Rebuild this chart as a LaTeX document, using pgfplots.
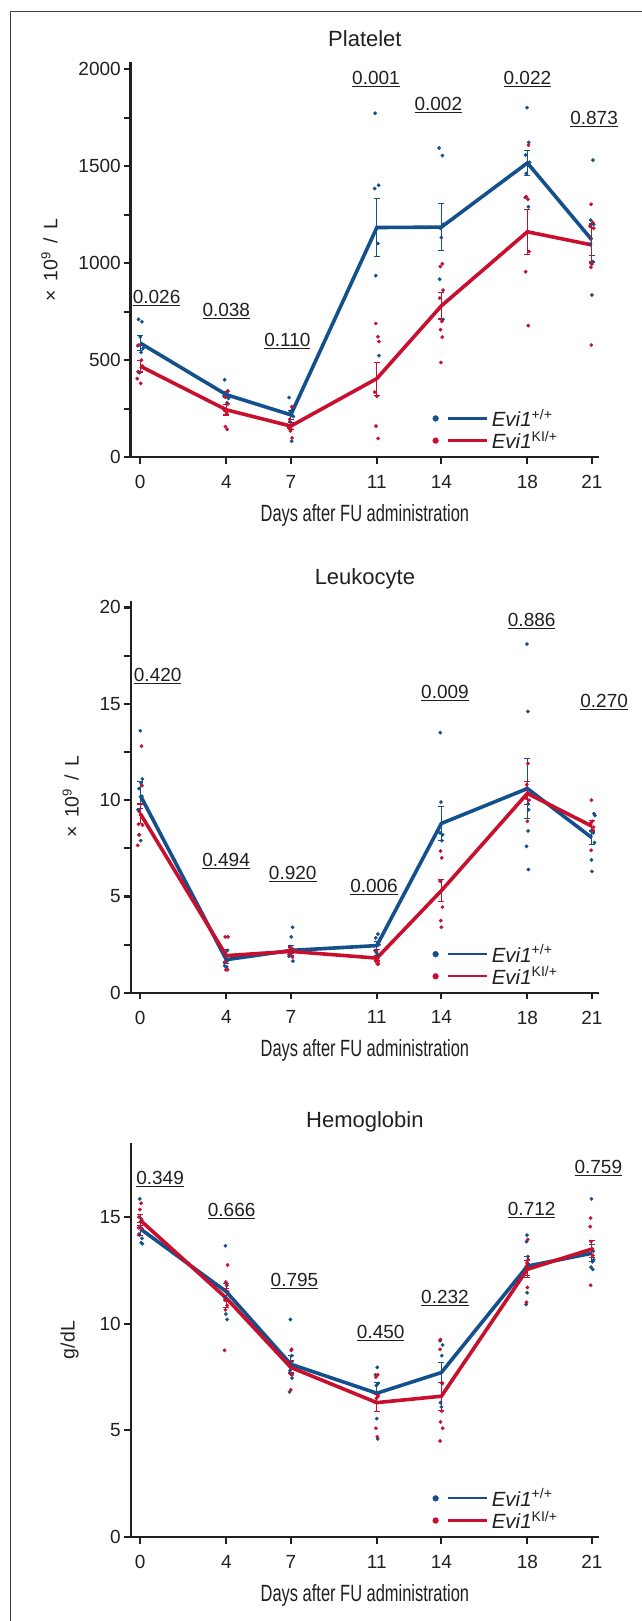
\documentclass[border=0pt]{standalone}
\usepackage{pgfplots}
\pgfplotsset{compat=1.18}
\usepackage{pgfplotstable}
\usepackage{fontspec}
\setmainfont{Liberation Sans}
\definecolor{cb}{HTML}{14508C}
\definecolor{cr}{HTML}{C8102E}
\definecolor{ink}{HTML}{231F20}

\newcommand{\supr}[1]{\raisebox{7pt}{\fontsize{13}{13}\selectfont #1}}
\newcommand{\supl}[1]{\raisebox{7.5pt}{\fontsize{14}{14}\selectfont #1}}
\newcommand{\pv}[1]{\underline{#1}}

% ---------- Platelet ----------
\pgfplotstableread{
d m e
0 588 38
4 322 15
7 218 22
11 1184 150
14 1186 120
18 1517 65
21 1120 82
}\plB
\pgfplotstableread{
d m e
0 469 30
4 244 27
7 160 18
11 405 85
14 780 68
18 1162 115
21 1094 88
}\plR
% ---------- Leukocyte ----------
\pgfplotstableread{
d m e
0 10.25 0.7
4 1.72 0.2
7 2.2 0.25
11 2.45 0.2
14 8.79 0.9
18 10.6 1.55
21 8.05 0.35
}\leB
\pgfplotstableread{
d m e
0 9.3 0.5
4 1.93 0.3
7 2.15 0.12
11 1.8 0.15
14 5.3 0.56
18 10.35 0.6
21 8.65 0.3
}\leR
% ---------- Hemoglobin ----------
\pgfplotstableread{
d m e
0 14.45 0.3
4 11.5 0.4
7 8.1 0.4
11 6.74 0.5
14 7.71 0.45
18 12.7 0.45
21 13.3 0.4
}\hbB
\pgfplotstableread{
d m e
0 14.85 0.25
4 11.2 0.45
7 7.95 0.3
11 6.3 0.4
14 6.6 0.65
18 12.55 0.4
21 13.5 0.4
}\hbR

\tikzset{pvn/.style={anchor=base, font=\fontsize{19}{22}\selectfont, text=ink}}

\pgfplotsset{
  panel/.style={
    scale only axis, width=468.2pt,
    axis x line=bottom, axis y line=left,
    axis line style={ink, line width=2.6pt, -},
    ymin=0, xmin=-0.44, xmax=21.33,
    xtick={0,4,7,11,14,18,21},
    tick align=outside, major tick length=6.5pt, minor tick length=6.5pt,
    every tick/.style={ink, line width=2.2pt},
    minor tick style={ink, line width=2.2pt},
    ticklabel style={font=\fontsize{19}{22}\selectfont, text=ink},
    xticklabel style={yshift=-8pt},
    /pgf/number format/assume math mode=true,
    /pgf/number format/1000 sep={},
    xlabel={\scalebox{0.7}[1]{\fontsize{23.5}{27}\selectfont Days after FU administration}},
    xlabel style={at={(axis description cs:0.5,0)}, anchor=center, yshift=-58pt, text=ink},
    ylabel style={font=\fontsize{19.5}{22}\selectfont, text=ink},
    ylabel shift=14pt,
    title style={font=\fontsize{22}{26}\selectfont, text=ink, at={(axis description cs:0.5,1)}, anchor=base, yshift=10pt},
    legend style={draw=none, fill=none, at={(0.644,0.012)}, anchor=south west,
      font=\fontsize{20.5}{22}\selectfont, text=ink, row sep=-1pt, inner sep=0pt,
      cells={anchor=west}},
    legend cell align=left,
    clip=false,
  },
  dots/.style={#1, only marks, mark=*, mark size=1.7pt, mark options={draw=none, fill=#1}, forget plot},
  meanline/.style={#1, line width=3.6pt, mark=none, forget plot,
    error bars/.cd, y dir=both, y explicit,
    error bar style={line width=1.1pt, #1},
    error mark options={rotate=90, mark size=3pt, line width=1.1pt, #1}},
  legimg/.style={#1, legend image code/.code={\fill[#1] (0pt,0pt) circle (2.9pt); \draw[#1, line width=2.2pt] (12pt,0pt) -- (51pt,0pt); \path (54pt,0pt);}},
}

\begin{document}
\begin{tikzpicture}[x=1pt,y=1pt]
\useasboundingbox (0,0) rectangle (641,-1621);
\draw[ink!85, line width=1.3pt] (10.2,-1640) -- (10.2,-11.8) -- (660,-11.8);

% ================= Platelet =================
\begin{axis}[panel, at={(130.8pt,-457.1pt)}, anchor=south west, height=394.6pt,
  ymax=2035, ytick={0,500,1000,1500,2000}, minor y tick num=1,
  title={Platelet},
  ylabel={×\, 10\supr{9}\, /\, L}]
\addplot[dots=cb] coordinates {
(-0.08,710)(0.08,698)(0,620)(-0.12,575)(0.12,560)(0.04,540)(-0.04,435)
(3.92,399)(4.08,340)(4,326)(3.9,315)(4.1,303)(4.03,280)
(6.92,307)(7.08,245)(7,235)(6.88,225)(7.12,210)(6.96,183)(7.04,82)
(10.92,1773)(11.08,1402)(10.9,1385)(11.05,1102)(10.95,936)(11.1,523)
(13.9,1594)(14.05,1555)(14.1,1200)(13.95,1180)(14,1132)(13.92,917)(14.08,710)
(17.98,1802)(18.06,1623)(17.92,1558)(18.1,1520)(17.95,1463)(17.9,1340)(18.05,1291)
(21.05,1532)(20.95,1222)(21.08,1200)(20.92,1100)(21.04,1008)(20.96,1000)(21,836)
};
\addplot[dots=cr] coordinates {
(-0.06,578)(0.06,500)(0.1,470)(-0.1,440)(-0.14,405)(0.02,380)
(4.05,340)(3.95,309)(4.08,274)(3.92,240)(4.02,227)(3.96,157)(4.04,143)
(7.05,260)(6.95,195)(7.1,170)(6.9,150)(7.02,143)(6.98,134)(7.06,99)
(10.95,689)(11.05,621)(11.1,596)(10.9,335)(11,314)(10.96,160)(11.06,96)
(14.05,997)(13.95,983)(14.08,861)(13.92,820)(14.02,700)(13.96,657)(14.04,619)(13.98,488)
(18.05,1609)(17.95,1343)(18.02,1330)(18.08,1060)(17.92,956)(18.04,678)
(20.96,1304)(21.04,1209)(20.92,1192)(21.08,1180)(21,996)(20.95,979)(20.97,578)
};
\addplot[meanline=cb] table[x=d, y=m, y error=e] {\plB};
\addplot[meanline=cr] table[x=d, y=m, y error=e] {\plR};
\node[pvn] at (axis cs:0.76,793) {\pv{0.026}};
\node[pvn] at (axis cs:4.0,724) {\pv{0.038}};
\node[pvn] at (axis cs:6.84,572) {\pv{0.110}};
\node[pvn] at (axis cs:10.96,1921) {\pv{0.001}};
\node[pvn] at (axis cs:13.86,1789) {\pv{0.002}};
\node[pvn] at (axis cs:18.0,1922) {\pv{0.022}};
\node[pvn] at (axis cs:21.1,1716) {\pv{0.873}};
\addlegendimage{legimg=cb}
\addlegendentry{\textit{Evi1}\supl{+/+}}
\addlegendimage{legimg=cr}
\addlegendentry{\textit{Evi1}\supl{KI/+}}
\end{axis}

% ================= Leukocyte =================
\begin{axis}[panel, at={(130.8pt,-992.8pt)}, anchor=south west, height=392.3pt,
  ymax=20.36, ytick={0,5,10,15,20}, minor y tick num=1,
  title={Leukocyte},
  ylabel={×\, 10\supr{9}\, /\, L}]
\addplot[dots=cb] coordinates {
(0,13.6)(0.1,11.1)(0.04,10.9)(-0.06,10.6)(0.08,10.2)(-0.1,9.5)(-0.04,8.2)(0.02,7.9)
(4.05,2.2)(3.95,1.9)(4.08,1.7)(3.92,1.4)(4.02,1.35)(3.98,1.6)
(7.08,3.4)(7.02,2.9)(6.95,2.4)(7.05,2.2)(6.92,1.9)(7.1,1.65)(6.98,2.0)
(11.05,3.05)(10.95,2.85)(11.1,2.5)(10.92,2.2)(11.02,2.0)(10.98,2.1)
(13.95,13.5)(13.98,9.9)(13.94,8.3)(14.06,8.2)(14.02,7.9)(13.97,5.8)
(17.98,18.1)(18.02,14.6)(17.95,10.6)(18.04,9.8)(18.06,9.5)(18.03,8.4)(17.96,7.6)(18.05,6.4)
(21.1,9.3)(21.14,9.2)(20.96,8.4)(21.06,8.3)(21.12,7.8)(20.98,6.9)(21,6.3)
};
\addplot[dots=cr] coordinates {
(0.06,12.8)(0.08,10.75)(-0.04,9.4)(0.04,9.2)(-0.08,8.75)(0.1,8.7)(-0.06,8.2)(-0.12,7.65)
(3.95,2.9)(4.08,2.9)(4.02,1.9)(3.92,1.6)(3.98,1.2)(4.06,1.2)
(6.96,2.35)(7.06,2.3)(7.02,2.15)(6.92,2.0)(7.08,1.85)(6.98,2.2)
(10.98,2.2)(11.05,1.8)(10.94,1.65)(11.02,1.5)(11.08,1.5)
(13.96,7.35)(14.02,7.0)(13.94,5.8)(14.05,4.45)(13.97,3.75)(14,3.4)
(18.02,11.9)(17.97,10.8)(18.05,10.3)(17.94,10.1)(18.08,10.0)(18.0,8.9)
(20.98,10.0)(21.02,8.9)(20.94,8.8)(21.08,8.6)(21.04,8.45)(20.96,7.4)
};
\addplot[meanline=cb] table[x=d, y=m, y error=e] {\leB};
\addplot[meanline=cr] table[x=d, y=m, y error=e] {\leR};
\node[pvn] at (axis cs:0.81,16.14) {\pv{0.420}};
\node[pvn] at (axis cs:3.99,6.54) {\pv{0.494}};
\node[pvn] at (axis cs:7.09,5.89) {\pv{0.920}};
\node[pvn] at (axis cs:10.87,5.19) {\pv{0.006}};
\node[pvn] at (axis cs:14.17,15.28) {\pv{0.009}};
\node[pvn] at (axis cs:18.2,19.0) {\pv{0.886}};
\node[pvn] at (axis cs:21.57,14.8) {\pv{0.270}};
\addlegendimage{legimg=cb}
\addlegendentry{\textit{Evi1}\supl{+/+}}
\addlegendimage{legimg=cr}
\addlegendentry{\textit{Evi1}\supl{KI/+}}
\end{axis}

% ================= Hemoglobin =================
\begin{axis}[panel, at={(130.8pt,-1537pt)}, anchor=south west, height=393.8pt,
  ymax=18.46, ytick={0,5,10,15},
  title={Hemoglobin},
  ylabel={g/dL}]
\addplot[dots=cb] coordinates {
(-0.02,15.85)(0.06,14.9)(0.02,14.5)(-0.06,14.2)(0.08,14.0)(0.04,13.8)(0.1,13.75)
(3.96,13.65)(4.02,11.8)(4.06,11.5)(3.94,11.2)(3.98,10.45)(4.04,10.2)
(6.98,10.2)(7.04,8.5)(7.02,8.2)(6.96,7.8)(7.06,7.45)(6.94,6.8)
(11.02,7.95)(10.94,7.6)(11.06,7.2)(10.98,7.1)(11,5.55)(11.04,4.6)
(13.94,9.2)(14.06,9.0)(14.02,8.5)(14.04,7.2)(13.96,6.3)(14,6.1)
(17.98,14.15)(17.96,13.85)(18.02,13.15)(18.04,12.8)(17.99,11.45)(17.94,10.9)
(20.98,15.85)(21.06,13.4)(21.08,13.0)(21.02,12.9)(20.96,12.65)(21.04,12.55)
};
\addplot[dots=cr] coordinates {
(0.04,15.65)(-0.02,15.35)(-0.06,15.0)(0.06,14.85)(0.02,14.8)(-0.08,14.5)(0.08,14.45)(-0.04,14.15)
(4.06,12.75)(3.98,11.95)(4.02,11.8)(3.94,11.1)(4.04,10.85)(3.96,10.65)(3.92,8.75)
(7.04,8.8)(7.02,8.75)(6.96,8.0)(6.98,7.65)(7.06,7.6)(7.0,6.9)
(11.04,7.6)(10.96,7.5)(11.06,6.6)(10.98,6.5)(10.96,5.1)(11.02,4.7)
(13.96,9.25)(13.94,8.8)(14.04,7.2)(14.02,5.9)(13.96,5.4)(14.06,5.1)(13.94,4.5)
(18.02,13.95)(17.98,12.85)(17.95,12.7)(18.0,11.7)(17.96,11.0)(18.04,13.0)
(20.94,14.95)(20.92,14.55)(20.96,13.85)(21.02,13.5)(21.04,13.2)(20.94,11.8)
};
\addplot[meanline=cb] table[x=d, y=m, y error=e] {\hbB};
\addplot[meanline=cr] table[x=d, y=m, y error=e] {\hbR};
\node[pvn] at (axis cs:0.92,16.53) {\pv{0.349}};
\node[pvn] at (axis cs:4.25,15.04) {\pv{0.666}};
\node[pvn] at (axis cs:7.17,11.75) {\pv{0.795}};
\node[pvn] at (axis cs:11.18,9.31) {\pv{0.450}};
\node[pvn] at (axis cs:14.17,10.95) {\pv{0.232}};
\node[pvn] at (axis cs:18.2,15.07) {\pv{0.712}};
\node[pvn] at (axis cs:21.3,17.03) {\pv{0.759}};
\addlegendimage{legimg=cb}
\addlegendentry{\textit{Evi1}\supl{+/+}}
\addlegendimage{legimg=cr}
\addlegendentry{\textit{Evi1}\supl{KI/+}}
\end{axis}
\end{tikzpicture}
\end{document}
